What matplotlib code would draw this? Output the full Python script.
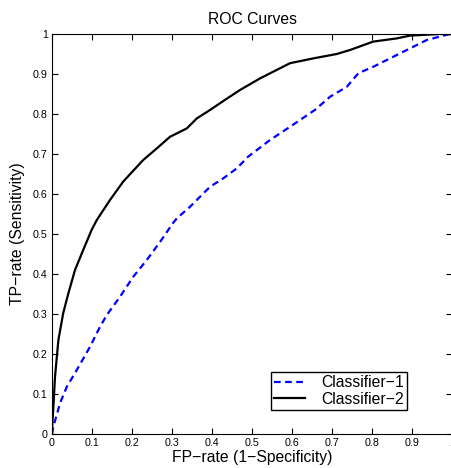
import matplotlib.pyplot as plt

plt.rcParams['font.family'] = ['Liberation Sans', 'DejaVu Sans']

# ROC points
fpr_1 = [0, 0.003, 0.012, 0.02, 0.037, 0.062, 0.095, 0.12, 0.137, 0.17, 0.203, 0.237,
         0.27, 0.303, 0.312, 0.345, 0.37, 0.395, 0.428, 0.462, 0.49, 0.545, 0.595,
         0.657, 0.695, 0.737, 0.766, 0.803, 0.845, 0.895, 0.937, 0.987, 1.0]
tpr_1 = [0, 0.018, 0.048, 0.077, 0.118, 0.16, 0.218, 0.268, 0.2975, 0.343, 0.393, 0.435,
         0.48, 0.528, 0.539, 0.568, 0.593, 0.618, 0.639, 0.664, 0.693, 0.735, 0.768,
         0.81, 0.843, 0.868, 0.902, 0.918, 0.939, 0.964, 0.985, 0.998, 1.0]

fpr_2 = [0, 0.001, 0.003, 0.0075, 0.016, 0.028, 0.041, 0.0575, 0.078, 0.099, 0.112,
         0.145, 0.178, 0.228, 0.262, 0.295, 0.337, 0.362, 0.395, 0.432, 0.47, 0.52,
         0.595, 0.653, 0.712, 0.745, 0.803, 0.862, 0.895, 0.97, 1.0]
tpr_2 = [0, 0.03, 0.06, 0.143, 0.235, 0.302, 0.352, 0.41, 0.46, 0.51, 0.535,
         0.585, 0.631, 0.685, 0.714, 0.743, 0.764, 0.789, 0.81, 0.835, 0.86, 0.889,
         0.927, 0.939, 0.95, 0.96, 0.981, 0.989, 0.996, 1.0, 1.0]

labels = ['Classifier\u22121', 'Classifier\u22122']

fig = plt.figure(figsize=(4.51, 4.68), dpi=100)
ax = fig.add_axes([52 / 451, 34 / 468, 400 / 451, 400 / 468])

ax.plot(fpr_1, tpr_1, color='#0000ff', lw=1.6, ls=(0, (3, 2)), label=labels[0])
ax.plot(fpr_2, tpr_2, color='black', lw=1.6, label=labels[1])

ax.set_xlim(0, 1)
ax.set_ylim(0, 1)
ticks = [i / 10 for i in range(11)]
ticklabels = ['0'] + ['0.%d' % i for i in range(1, 10)] + ['1']
ax.set_xticks(ticks)
ax.set_xticklabels(ticklabels)
ax.set_yticks(ticks)
ax.set_yticklabels(ticklabels)
ax.tick_params(direction='in', top=True, right=True, length=4, labelsize=7.7, pad=3)

ax.set_title('ROC Curves', fontsize=11.3, pad=7)
ax.set_xlabel('FP\u2212rate (1\u2212Specificity)', fontsize=11.3, labelpad=1)
ax.set_ylabel('TP\u2212rate (Sensitivity)', fontsize=11.3, labelpad=6)

leg = ax.legend(loc='lower right', bbox_to_anchor=(0.8875, 0.06), fontsize=11.3,
                frameon=True, fancybox=False, edgecolor='black', framealpha=1,
                handlelength=2.0, borderpad=0.2, labelspacing=0.1, handletextpad=1.0,
                borderaxespad=0)
leg.get_frame().set_linewidth(1.0)

fig.savefig('out.png', dpi=100)
